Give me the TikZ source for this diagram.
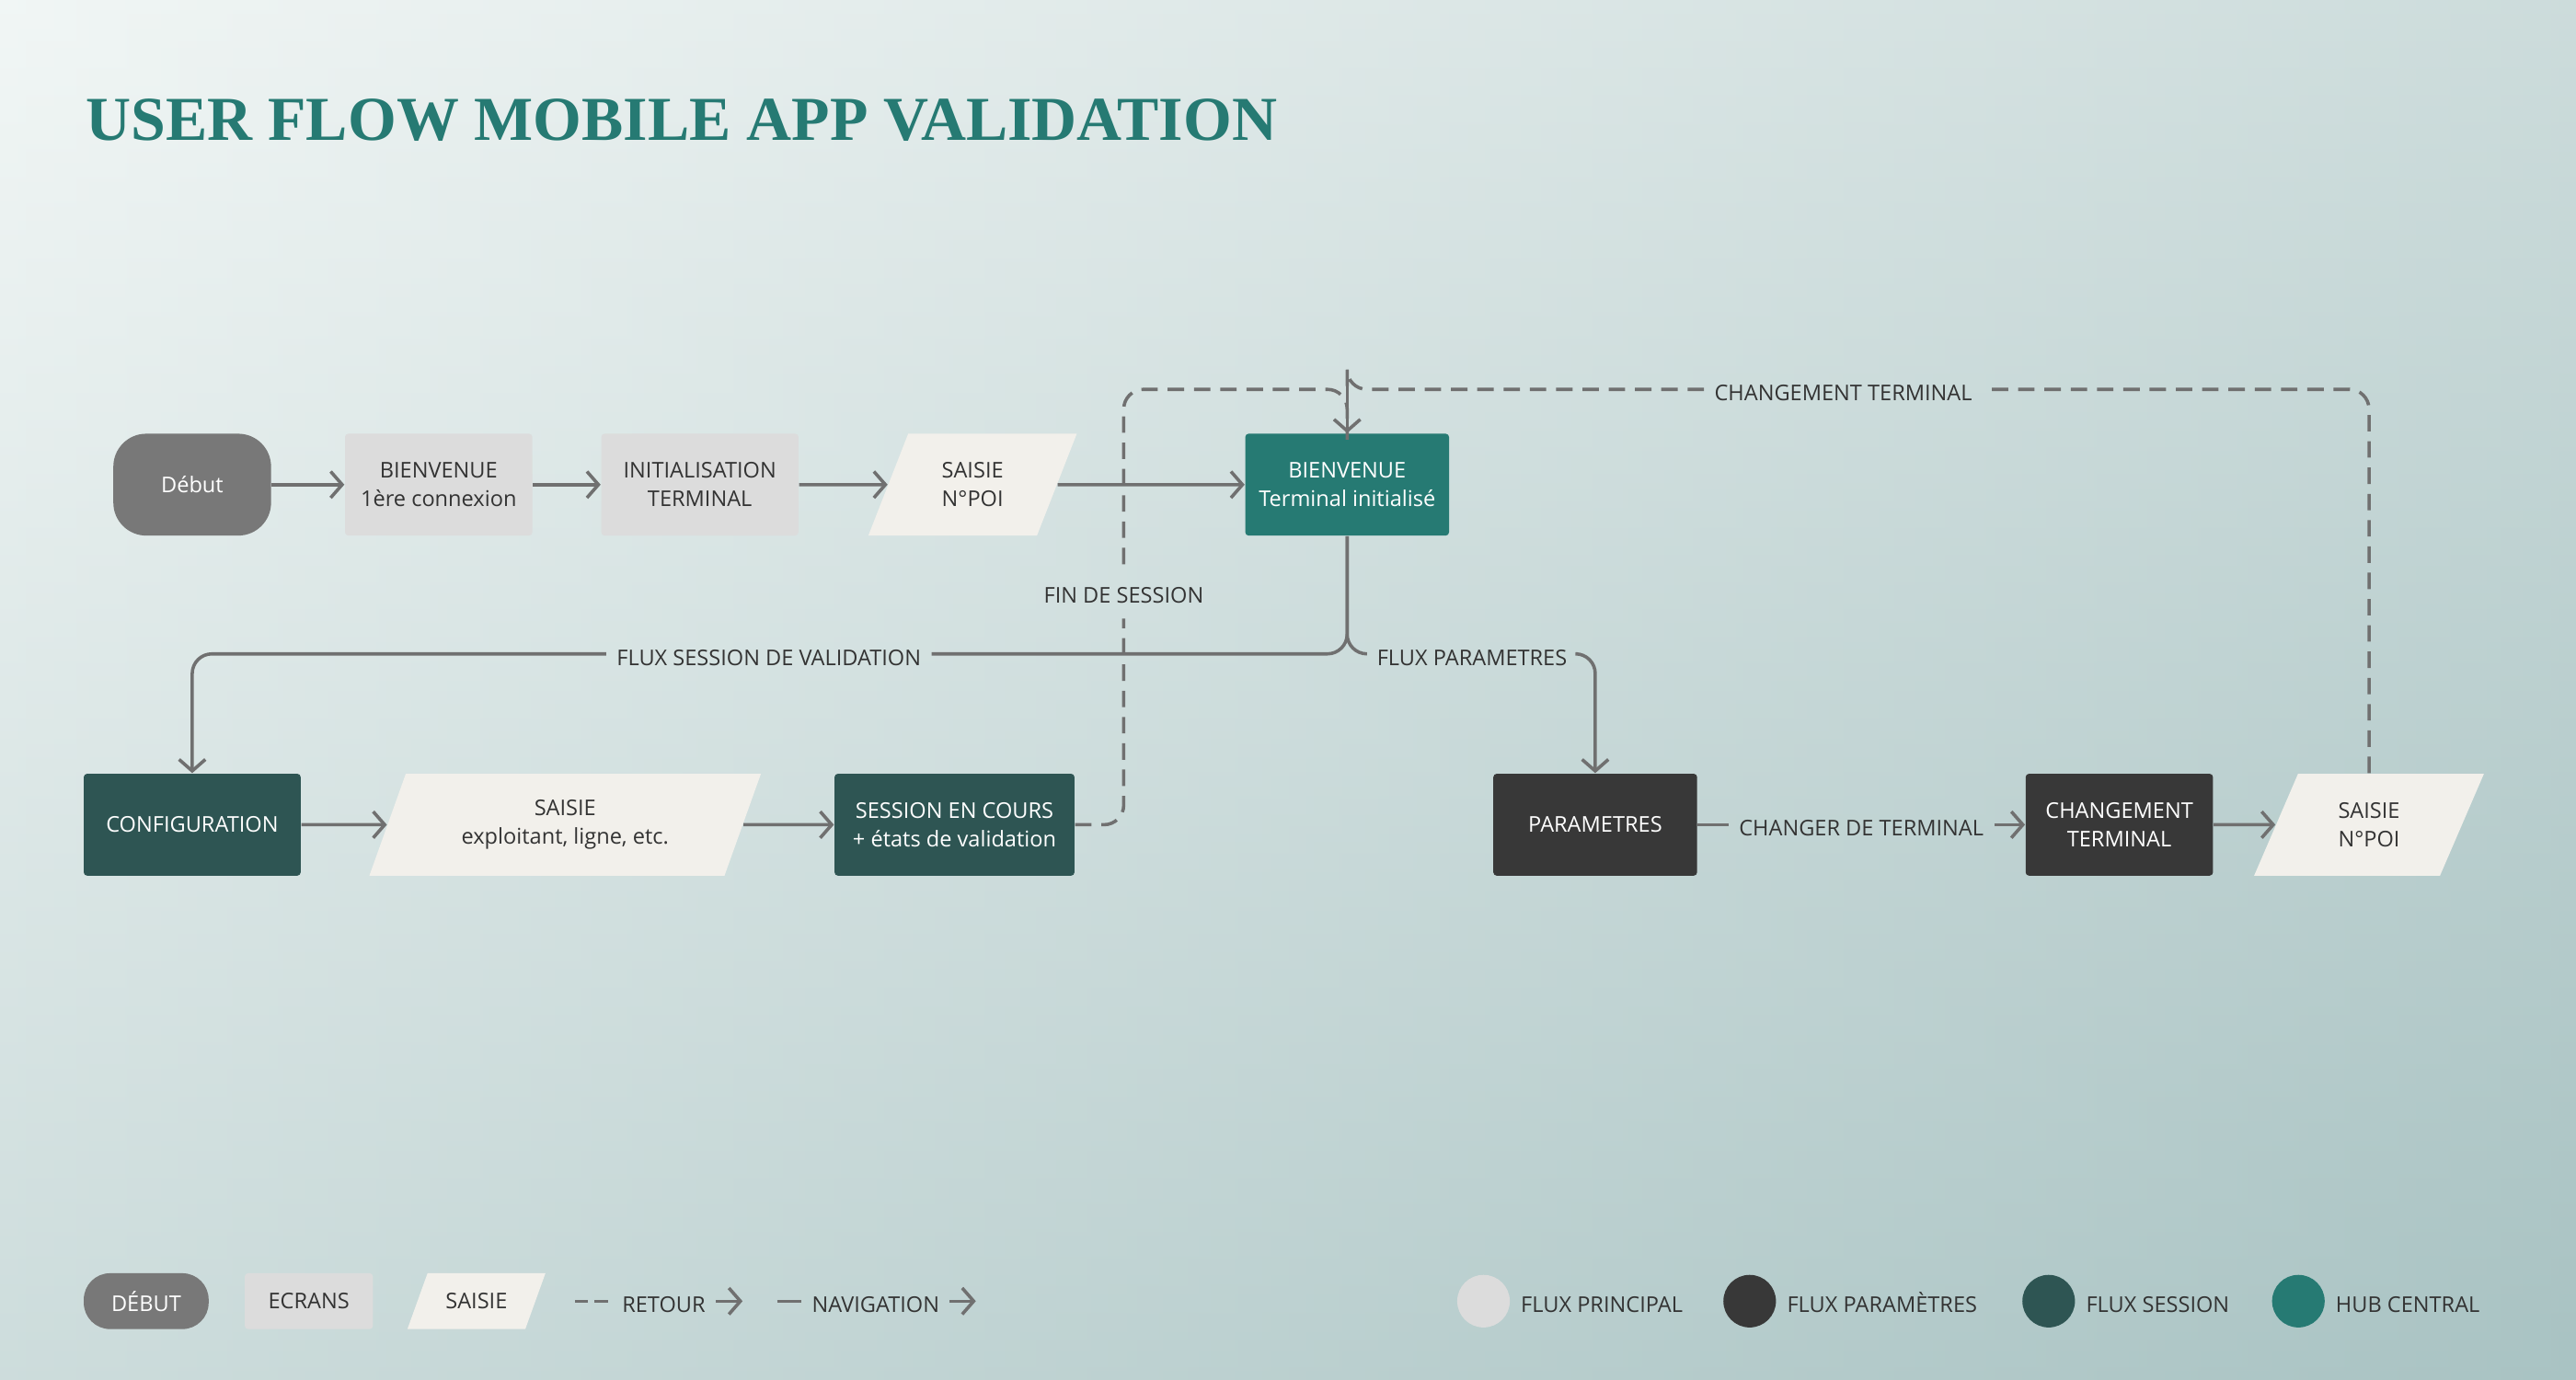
\documentclass[tikz,border=0pt]{standalone}
\usepackage{fontspec}
\setmainfont{Open Sans}
\newfontfamily\titlefont{Liberation Serif}
\usetikzlibrary{shapes.geometric, arrows.meta, positioning}
\definecolor{bgA}{HTML}{F1F6F5}
\definecolor{bgB}{HTML}{A9C3C3}
\definecolor{teal}{HTML}{267A73}
\definecolor{sess}{HTML}{2E5553}
\definecolor{param}{HTML}{383838}
\definecolor{lite}{HTML}{DCDCDC}
\definecolor{paper}{HTML}{F2F0EB}
\definecolor{ink}{HTML}{333333}
\definecolor{wire}{HTML}{707070}
\begin{document}
\begin{tikzpicture}[x=0.5pt,y=-0.5pt,font=\fontsize{6.6}{8.6}\selectfont]
\tikzset{
  base/.style={align=center, inner sep=2pt, minimum height=31pt, text=ink},
  startbox/.style={base, rectangle, rounded corners=10pt, fill=black!53, text=white},
  screen/.style={base, rectangle, rounded corners=1pt, fill=lite},
  hub/.style={base, rectangle, rounded corners=1pt, fill=teal, text=white},
  sessbox/.style={base, rectangle, rounded corners=1pt, fill=sess, text=white},
  parbox/.style={base, rectangle, rounded corners=1pt, fill=param, text=white},
  input/.style={base, trapezium, trapezium left angle=68, trapezium right angle=112,
    trapezium stretches=true, fill=paper},
  lbl/.style={text=ink, inner sep=3pt, text height=1.6ex, text depth=0.3ex},
  nav/.style={line width=1pt, draw=wire, -{Straight Barb[length=3.5pt,width=8pt]}},
  back/.style={line width=1pt, draw=wire, dash pattern=on 5pt off 3pt, rounded corners=6pt},
  dot/.style={circle, minimum size=16pt, inner sep=0pt},
}
% background
\shade[top color=bgA, bottom color=bgB] (0,0) rectangle (1568,840);
\shade[left color=bgA, right color=bgB, opacity=0.5] (0,0) rectangle (1568,840);
\useasboundingbox (0,0) rectangle (1568,840);
\node[anchor=west, text=teal, inner sep=0pt] (title) at (52,73)
  {\titlefont\fontsize{19}{19}\selectfont\bfseries USER FLOW MOBILE APP VALIDATION};

% main flow
\node[startbox, minimum width=48pt] (debut) at (117,295) {Début};
\node[screen, minimum width=57pt] (first) at (267,295) {BIENVENUE\\1ère connexion};
\node[screen, minimum width=60pt] (init) at (426,295) {INITIALISATION\\TERMINAL};
\node[input, minimum width=63.5pt] (poi) at (592,295) {SAISIE\\N°POI};
\node[hub, minimum width=62pt] (home) at (820,295) {BIENVENUE\\Terminal initialisé};

% session flow
\node[sessbox, minimum width=66pt] (config) at (117,502) {CONFIGURATION};
\node[input, minimum width=119.5pt] (entry) at (344,502) {SAISIE\\exploitant, ligne, etc.};
\node[sessbox, minimum width=73pt] (session) at (581,502) {SESSION EN COURS\\+ états de validation};

% settings flow
\node[parbox, minimum width=62pt] (settings) at (971,502) {PARAMETRES};
\node[parbox, minimum width=57pt] (change) at (1290,502) {CHANGEMENT\\TERMINAL};
\node[input, minimum width=70pt] (poi2) at (1442,502) {SAISIE\\N°POI};

% labels
\node[lbl] (lsess) at (468,398) {FLUX SESSION DE VALIDATION};
\node[lbl] (lpar) at (896,398) {FLUX PARAMETRES};
\node[lbl] (lend) at (684,360) {FIN DE SESSION};
\node[lbl] (lchg) at (1122,237) {CHANGEMENT TERMINAL};
\node[lbl] (lswap) at (1133,502) {CHANGER DE TERMINAL};
\coordinate (top) at (820,237);

% navigation
\draw[nav] (debut) -- (first);
\draw[nav] (first) -- (init);
\draw[nav] (init) -- (poi);
\draw[nav] (poi) -- (home);
\draw[line width=1pt, draw=wire, rounded corners=6pt] (home.south) |- (lsess.east);
\draw[nav, rounded corners=6pt] (lsess.west) -| (config.north);
\draw[line width=1pt, draw=wire, rounded corners=6pt] (home.south) |- (lpar.west);
\draw[nav, rounded corners=6pt] (lpar.east) -| (settings.north);
\draw[nav] (config) -- (entry);
\draw[nav] (entry) -- (session);
\draw[line width=1pt, draw=wire] (settings) -- (lswap);
\draw[nav] (lswap) -- (change);
\draw[nav] (change) -- (poi2);

% returns
\draw[back] (session.east) -| (lend.south);
\draw[back] (lend.north) |- (top) -- ([yshift=-2pt]home.north);
\draw[back] (poi2.north) |- (lchg.east);
\draw[back] (lchg.west) -| (top);
\draw[wire, line width=1pt, -{Straight Barb[length=3.5pt,width=8pt]}] ([yshift=4pt]top) -- (home.north);

% legend
\node[startbox, minimum width=38pt, minimum height=17pt, rounded corners=8pt] (kstart) at (89,792) {DÉBUT};
\node[screen, minimum width=39pt, minimum height=17pt] (kscreen) at (188,792) {ECRANS};
\node[input, minimum width=42pt, minimum height=17pt, inner sep=1pt,
  trapezium left angle=58, trapezium right angle=122] (kinput) at (290,792) {SAISIE};
\node[lbl] (kback) at (404,792) {RETOUR};
\coordinate (kb1) at (350,792);
\coordinate (kb2) at (452,792);
\draw[back, dash pattern=on 4pt off 2pt] (kb1) -- (kback.west);
\draw[nav] (kback.east) -- (kb2);
\node[lbl] (knav) at (533,792) {NAVIGATION};
\coordinate (kn1) at (473,792);
\coordinate (kn2) at (594,792);
\draw[line width=1pt, draw=wire] (kn1) -- (knav.west);
\draw[nav] (knav.east) -- (kn2);

\node[dot, fill=lite] (dmain) at (903,792) {};
\node[lbl, right=0pt of dmain] {FLUX PRINCIPAL};
\node[dot, fill=param] (dpar) at (1065,792) {};
\node[lbl, right=0pt of dpar] {FLUX PARAMÈTRES};
\node[dot, fill=sess] (dsess) at (1247,792) {};
\node[lbl, right=0pt of dsess] {FLUX SESSION};
\node[dot, fill=teal] (dhub) at (1399,792) {};
\node[lbl, right=0pt of dhub] {HUB CENTRAL};
\end{tikzpicture}
\end{document}
